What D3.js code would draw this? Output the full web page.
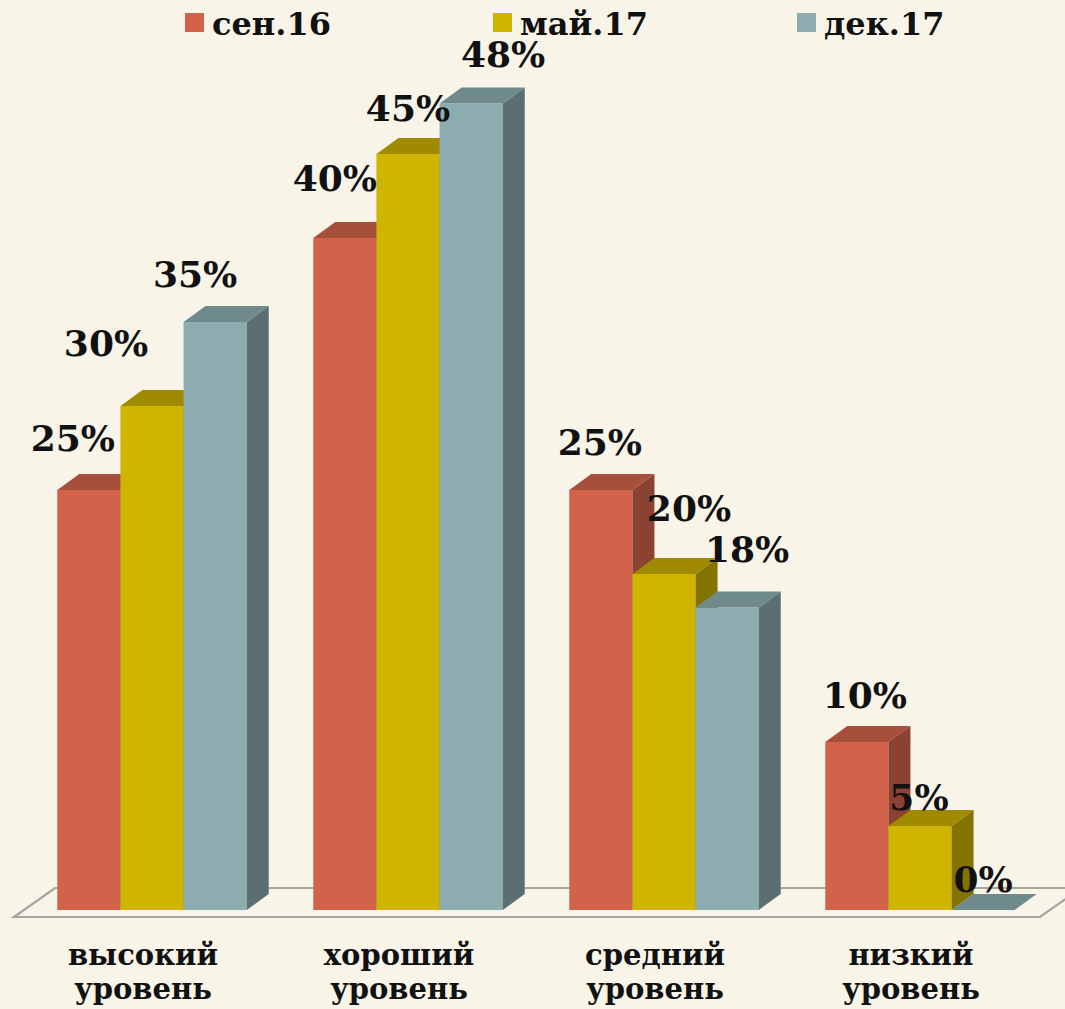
<!DOCTYPE html>
<html>
<head>
<meta charset="utf-8">
<script src="https://cdn.jsdelivr.net/npm/d3@7"></script>
<style>
  html, body { margin: 0; padding: 0; background: #f8f4e8; }
  svg { display: block; }
  text { font-family: "DejaVu Serif", "Liberation Serif", serif; font-weight: bold; fill: #111; }
</style>
</head>
<body>
<svg id="chart" width="1065" height="1009"></svg>
<script>
  // categories and series
  var categories = [['высокий', 'уровень'], ['хороший', 'уровень'], ['средний', 'уровень'], ['низкий', 'уровень']];
  var seriesNames = ['сен.16', 'май.17', 'дек.17'];
  var sen16 = [25, 40, 25, 10];
  var may17 = [30, 45, 20, 5];
  var dec17 = [35, 48, 18, 0];
  var seriesValues = [sen16, may17, dec17];

  // hand-placed label nudges in the original, per series then category [dx, dy]
  var labelShift = [
    [[-16, -1], [-10, -9], [-1, 3], [8, 4]],
    [[-46, -12], [0, 5], [25, -15], [-1, 22]],
    [[-20, 3], [32, 1], [20, -8], [0, 20]]
  ];

  var colors = [
    { front: '#d2634a', top: '#a6503c', side: '#8a4232' },
    { front: '#cfb500', top: '#a08b00', side: '#857300' },
    { front: '#8dacaf', top: '#6e8a8d', side: '#5b6e70' }
  ];

  var svg = d3.select('#chart');
  var W = 1065, H = 1009;
  svg.append('rect').attr('width', W).attr('height', H).attr('fill', '#f8f4e8');

  var depthX = 22, depthY = 16;     // bar depth offset
  var baseY = 910;                  // front bottom of bars

  var x0 = d3.scaleBand().domain(d3.range(categories.length)).range([24, 1048])
    .paddingInner(0.26).paddingOuter(0.13);
  var x1 = d3.scaleBand().domain(d3.range(seriesNames.length)).range([0, x0.bandwidth()]);
  var y = d3.scaleLinear().domain([0, 50]).range([baseY, baseY - 840]);

  // floor
  var floorFront = 917, floorBack = 888, floorLeft = 14, floorRight = 1040, floorDx = 41;
  var floor = svg.append('g').attr('fill', 'none').attr('stroke', '#a5a5a2').attr('stroke-width', 2.2);
  floor.append('path').attr('d', 'M' + floorLeft + ',' + floorFront + 'L' + floorRight + ',' + floorFront +
    'L' + (floorRight + floorDx) + ',' + floorBack + 'L' + (floorLeft + floorDx) + ',' + floorBack + 'Z');

  // bars
  var bars = svg.append('g');
  categories.forEach(function (cat, ci) {
    seriesValues.forEach(function (vals, si) {
      var v = vals[ci];
      var xl = x0(ci) + x1(si), xr = xl + x1.bandwidth();
      var yt = y(v);
      var c = colors[si];
      var g = bars.append('g');
      if (v > 0) {
        g.append('rect').attr('x', xl).attr('y', yt).attr('width', xr - xl).attr('height', baseY - yt)
          .attr('fill', c.front);
        g.append('path').attr('fill', c.side)
          .attr('d', 'M' + xr + ',' + yt + 'L' + (xr + depthX) + ',' + (yt - depthY) +
            'L' + (xr + depthX) + ',' + (baseY - depthY) + 'L' + xr + ',' + baseY + 'Z');
      }
      g.append('path').attr('fill', c.top)
        .attr('d', 'M' + xl + ',' + yt + 'L' + xr + ',' + yt + 'L' + (xr + depthX) + ',' + (yt - depthY) +
          'L' + (xl + depthX) + ',' + (yt - depthY) + 'Z');
    });
  });

  // value labels
  var labels = svg.append('g').attr('text-anchor', 'middle').style('font-size', '36px');
  seriesValues.forEach(function (vals, si) {
    vals.forEach(function (v, ci) {
      var cx = x0(ci) + x1(si) + x1.bandwidth() / 2;
      var sh = labelShift[si][ci];
      labels.append('text')
        .attr('x', cx + sh[0])
        .attr('y', y(v) - 38 + sh[1])
        .text(v + '%');
    });
  });

  // category labels
  var catG = svg.append('g').attr('text-anchor', 'middle').style('font-size', '29px');
  categories.forEach(function (lines, ci) {
    var t = catG.append('text').attr('x', x0(ci) + x0.bandwidth() / 2 - 9).attr('y', 965);
    lines.forEach(function (ln, li) {
      t.append('tspan').attr('x', x0(ci) + x0.bandwidth() / 2 - 9).attr('dy', li ? 34 : 0).text(ln);
    });
  });

  // legend
  var legX = [185, 493, 797];
  var leg = svg.append('g').style('font-size', '32px');
  seriesNames.forEach(function (name, si) {
    leg.append('rect').attr('x', legX[si]).attr('y', 13).attr('width', 19).attr('height', 19)
      .attr('fill', colors[si].front);
    leg.append('text').attr('x', legX[si] + 27).attr('y', 35).text(name);
  });
</script>
</body>
</html>
